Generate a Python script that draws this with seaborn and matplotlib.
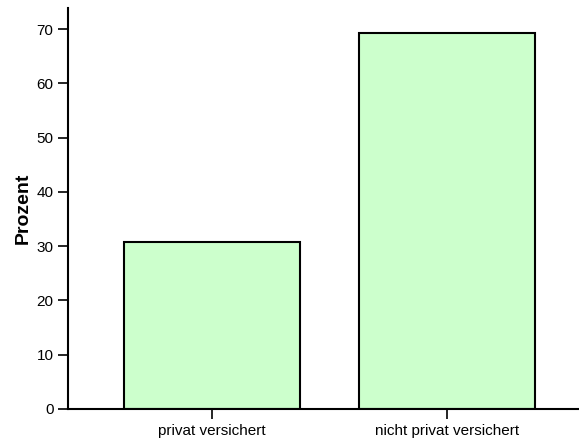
import pandas as pd
import matplotlib.pyplot as plt
import seaborn as sns

categories = ['privat versichert', 'nicht privat versichert']
prozent = [30.8, 69.2]

df = pd.DataFrame({'gruppe': categories, 'prozent': prozent})

sns.set_style('ticks')
plt.rcParams['font.family'] = ['Liberation Sans', 'DejaVu Sans']

fig = plt.figure(figsize=(5.79, 4.41), dpi=100)
ax = fig.add_axes([0.1174, 0.0726, 0.8826, 0.9093])
sns.barplot(data=df, x='gruppe', y='prozent', color='#ccffcc', saturation=1,
            edgecolor='black', linewidth=1.5, width=0.75, ax=ax)
ax.set_xlim(-0.613, 1.56)
ax.set_ylim(0, 73.9)
ax.set_yticks(range(0, 71, 10))
ax.set_xlabel('')
ax.set_ylabel('Prozent', fontsize=14, fontweight='bold', color='black', labelpad=3)
ax.tick_params(axis='both', labelsize=11, length=7.5, width=1.2, pad=3,
               color='black', labelcolor='black')
sns.despine(ax=ax)
for s in ['left', 'bottom']:
    ax.spines[s].set_linewidth(1.5)
    ax.spines[s].set_color('black')
fig.savefig('out.png', dpi=100)
